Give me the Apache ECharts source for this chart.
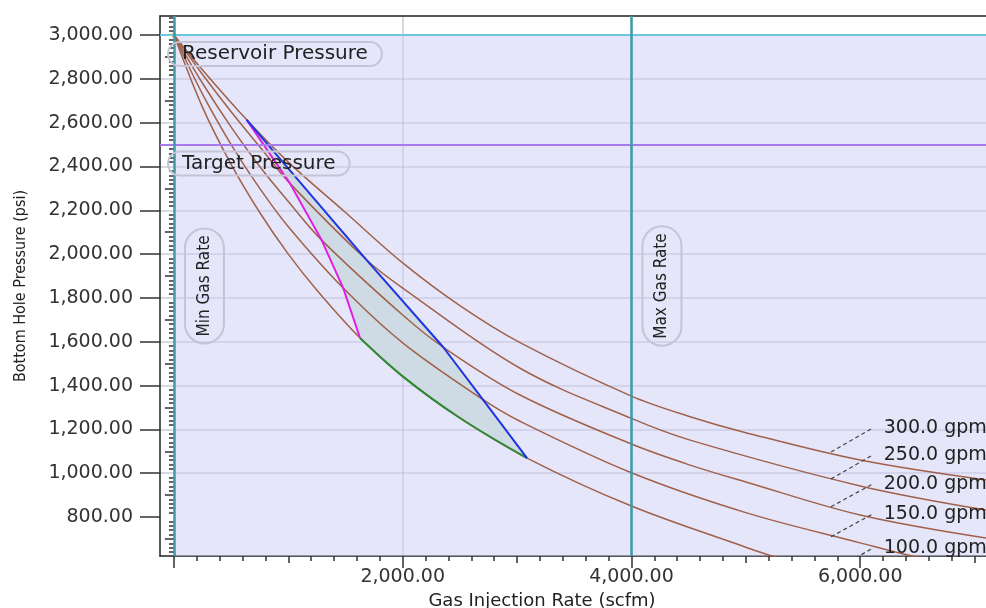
<!DOCTYPE html>
<html>
<head>
  <meta charset="utf-8">
</head>
<body style="margin: 0">
  <div id="container" style="width: 986px; height: 608px"></div>
  <script src="https://cdn.jsdelivr.net/npm/echarts@6/dist/echarts.min.js"></script>
  <script>
    // axis extents
    var xMin = -122, xMax = 7100;
    var yMin = 622, yMax = 3087;

    // operating limits
    var reservoirPressure = 3000;
    var targetPressure = 2500;
    var minGasRate = 0;
    var maxGasRate = 4000;

    // performance curves, [gas rate scfm, bottom hole pressure psi]
    var rateNames = ['100.0 gpm', '150.0 gpm', '200.0 gpm', '250.0 gpm', '300.0 gpm'];
    var curve100 = [[0, 3000], [250, 2670], [500, 2410], [750, 2190], [1000, 2000], [1250, 1835], [1627, 1617],
      [2000, 1442], [2500, 1252], [3087, 1069], [4000, 850], [5000, 662], [5230, 622], [5745, 555], [6100, 515]];
    var curve150 = [[0, 3000], [250, 2730], [500, 2500], [750, 2300], [1000, 2125], [1480, 1845], [2000, 1595],
      [2700, 1337], [3026, 1237], [4000, 1002], [5000, 820], [6000, 682], [6454, 622], [7100, 560]];
    var curve200 = [[0, 3000], [250, 2780], [500, 2580], [750, 2400], [1000, 2240], [1291, 2064], [2000, 1722],
      [2355, 1575], [3026, 1357], [4000, 1133], [4513, 1037], [5000, 960], [6000, 809], [7100, 704]];
    var curve250 = [[0, 3000], [250, 2820], [500, 2650], [750, 2490], [1014, 2323], [1685, 1973], [2000, 1845],
      [3026, 1479], [4000, 1250], [4513, 1151], [6000, 942], [7100, 832]];
    var curve300 = [[0, 3000], [250, 2840], [636, 2613], [1000, 2420], [1500, 2190], [2000, 1960], [2500, 1765],
      [3026, 1596], [4000, 1352], [4513, 1258], [5000, 1185], [6000, 1060], [7100, 969]];
    var curves = [curve100, curve150, curve200, curve250, curve300];

    // operating envelope
    var magentaLine = [[636, 2613], [1014, 2323], [1291, 2064], [1480, 1845], [1627, 1617]];
    var greenLine = [[1627, 1617], [2000, 1442], [2500, 1252], [3087, 1069]];
    var blueLine = [[636, 2613], [1685, 1973], [2355, 1575], [2700, 1337], [3087, 1069]];

    // curve label leaders
    var leaderStart = [[5745, 549], [5745, 710], [5745, 847], [5745, 974], [5745, 1097]];
    var leaderEnd = [[6110, 658], [6110, 814], [6110, 951], [6110, 1083], [6110, 1206]];

    // ticks
    var xLabelValues = [2000, 4000, 6000];
    var xMajorTicks = [0, 2000, 4000, 6000];
    var yLabelValues = [800, 1000, 1200, 1400, 1600, 1800, 2000, 2200, 2400, 2600, 2800, 3000];

    function stepValues(from, to, step, skip) {
      var out = [];
      for (var v = from; v <= to; v += step) {
        if (!skip || v % skip !== 0) out.push(v);
      }
      return out;
    }
    var xMinor = stepValues(200, 7000, 200, 1000);
    var xMid = stepValues(1000, 7000, 1000, 2000);
    var yMinor = stepValues(640, 3080, 20, 100);
    var yMid = stepValues(700, 3000, 100, 200);

    function fmt(v) {
      return v.toLocaleString('en-US', { minimumFractionDigits: 2, maximumFractionDigits: 2 });
    }

    var dom = document.getElementById('container');
    var myChart = echarts.init(dom, null, { renderer: 'canvas' });

    var labelFont = 'DejaVu Sans';
    var narrowFont = '"DejaVu Sans Condensed", "Liberation Sans Narrow", sans-serif';

    function tickAxis(values, len) {
      return {
        type: 'value', min: xMin, max: xMax, position: 'bottom',
        axisLine: { show: false },
        axisTick: { show: true, customValues: values, length: len, lineStyle: { color: '#333', width: 1.5 } },
        axisLabel: { show: false },
        splitLine: { show: false }
      };
    }
    function yTickAxis(values, len) {
      return {
        type: 'value', min: yMin, max: yMax, position: 'left',
        axisLine: { show: false },
        axisTick: { show: true, customValues: values, length: len, lineStyle: { color: '#333', width: 1.5 } },
        axisLabel: { show: false },
        splitLine: { show: false }
      };
    }

    var boxLabel = {
      show: true,
      color: '#222',
      fontFamily: labelFont,
      fontSize: 20,
      backgroundColor: 'transparent',
      borderColor: '#c4c4d6',
      borderWidth: 1,
      borderRadius: 13,
      padding: [2, 14],
      offset: [3, 2]
    };
    var vBoxLabel = {
      show: true,
      color: '#222',
      fontFamily: narrowFont,
      fontSize: 17,
      backgroundColor: 'transparent',
      borderColor: '#c4c4d6',
      borderWidth: 1,
      borderRadius: 20,
      padding: [11, 7],
      position: 'insideMiddleBottom',
      distance: 11
    };

    var series = [
      {
        name: 'limits',
        type: 'line',
        data: [],
        silent: true,
        markArea: {
          silent: true,
          itemStyle: { color: 'rgba(205, 205, 245, 0.5)' },
          data: [[{ xAxis: minGasRate, yAxis: reservoirPressure }, { xAxis: xMax, yAxis: yMin }]]
        },
        markLine: {
          silent: true,
          symbol: 'none',
          animation: false,
          data: [
            { yAxis: reservoirPressure, lineStyle: { color: '#6cc6dd', width: 2, type: 'solid' },
              label: Object.assign({}, boxLabel, { position: 'insideStartBottom', formatter: 'Reservoir Pressure' }) },
            { yAxis: targetPressure, lineStyle: { color: '#a97aec', width: 2, type: 'solid' },
              label: Object.assign({}, boxLabel, { position: 'insideStartBottom', formatter: 'Target Pressure' }) },
            { xAxis: minGasRate, lineStyle: { color: '#3d9ba8', width: 2.5, type: 'solid' },
              label: Object.assign({}, vBoxLabel, { formatter: 'Min Gas Rate' }) },
            { xAxis: maxGasRate, lineStyle: { color: '#3d9ba8', width: 2.5, type: 'solid' },
              label: Object.assign({}, vBoxLabel, { formatter: 'Max Gas Rate' }) }
          ]
        }
      },
      {
        name: 'envelope',
        type: 'custom',
        silent: true,
        data: [magentaLine[0]],
        renderItem: function (params, api) {
          var pts = magentaLine.concat(greenLine.slice(1), blueLine.slice().reverse().slice(1));
          return {
            type: 'polygon',
            shape: { points: pts.map(function (p) { return api.coord(p); }) },
            style: { fill: '#cfdbe4' }
          };
        }
      }
    ];

    curves.forEach(function (c, i) {
      series.push({
        name: rateNames[i],
        type: 'line',
        data: c,
        smooth: 0.35,
        showSymbol: false,
        silent: true,
        lineStyle: { color: '#a0614a', width: 1.5 }
      });
    });

    [[magentaLine, '#e020e0'], [greenLine, '#2f8a34'], [blueLine, '#1f35e0']].forEach(function (pair, i) {
      series.push({
        type: 'line',
        data: pair[0],
        smooth: i === 1 ? 0.35 : false,
        showSymbol: false,
        silent: true,
        lineStyle: { color: pair[1], width: 2 }
      });
    });

    leaderStart.forEach(function (s, i) {
      series.push({
        type: 'line',
        data: [s, leaderEnd[i]],
        showSymbol: false,
        silent: true,
        lineStyle: { color: '#444', width: 1.2, type: [4, 3] },
        endLabel: {
          show: true,
          formatter: rateNames[i],
          distance: 11,
          color: '#222',
          fontFamily: labelFont,
          fontSize: 19
        }
      });
    });

    series.push({
      type: 'scatter',
      data: [[0, 3000]],
      symbolSize: 5,
      silent: true,
      itemStyle: { color: '#e8a020' }
    });

    var option = {
      animation: false,
      backgroundColor: '#fff',
      grid: { left: 160, right: 0, top: 16, bottom: 52, outerBoundsMode: 'none', containLabel: false },
      xAxis: [
        {
          type: 'value', min: xMin, max: xMax, position: 'bottom',
          minInterval: 2000, maxInterval: 2000,
          name: 'Gas Injection Rate (scfm)',
          nameLocation: 'middle',
          nameGap: 32,
          nameTextStyle: { fontFamily: labelFont, fontSize: 18, color: '#222', padding: [0, 62, 0, 0] },
          axisLine: { show: true, onZero: false, lineStyle: { color: '#222', width: 1.5 } },
          axisTick: { show: true, customValues: xMajorTicks, length: 12, lineStyle: { color: '#333', width: 1.5 } },
          axisLabel: { customValues: xLabelValues, formatter: fmt, margin: 12,
            fontFamily: labelFont, fontSize: 19, color: '#333' },
          splitLine: { show: true, showMinLine: false, showMaxLine: false,
            lineStyle: { color: 'rgba(170, 170, 190, 0.6)', width: 1.5 } }
        },
        tickAxis(xMinor, 5),
        tickAxis(xMid, 7),
        {
          type: 'value', min: xMin, max: xMax, position: 'top',
          axisLine: { show: true, onZero: false, lineStyle: { color: '#222', width: 1.5 } },
          axisTick: { show: false }, axisLabel: { show: false }, splitLine: { show: false }
        }
      ],
      yAxis: [
        {
          type: 'value', min: yMin, max: yMax, position: 'left',
          minInterval: 200, maxInterval: 200,
          name: 'Bottom Hole Pressure (psi)',
          nameLocation: 'middle',
          nameGap: 131,
          nameTextStyle: { fontFamily: narrowFont, fontSize: 16, color: '#222' },
          axisLine: { show: true, onZero: false, lineStyle: { color: '#222', width: 1.5 } },
          axisTick: { show: true, customValues: yLabelValues, length: 20, lineStyle: { color: '#333', width: 1.5 } },
          axisLabel: { customValues: yLabelValues, formatter: fmt, margin: 27,
            fontFamily: labelFont, fontSize: 19, color: '#333' },
          splitLine: { show: true, showMinLine: false, showMaxLine: false,
            lineStyle: { color: 'rgba(170, 170, 190, 0.6)', width: 1.5 } }
        },
        yTickAxis(yMinor, 5),
        yTickAxis(yMid, 9)
      ],
      series: series.map(function (s) {
        s.xAxisIndex = 0;
        s.yAxisIndex = 0;
        return s;
      })
    };

    myChart.setOption(option);
    window.addEventListener('resize', myChart.resize);
  </script>
</body>
</html>
